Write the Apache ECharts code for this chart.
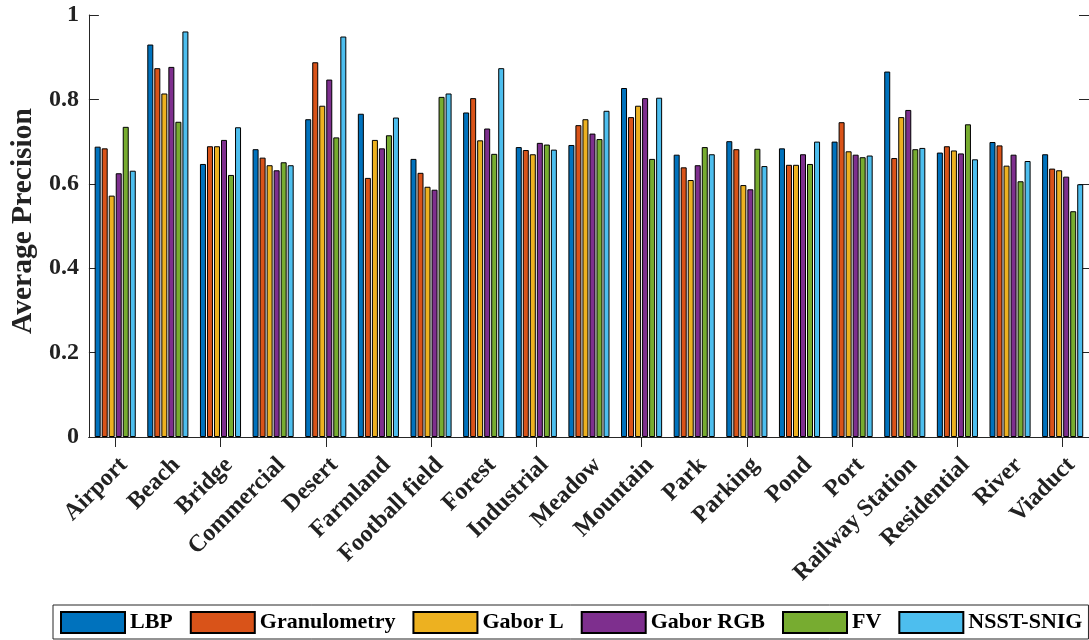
<!DOCTYPE html>
<html>
<head>
<meta charset="utf-8">
<script src="https://cdn.jsdelivr.net/npm/echarts@6/dist/echarts.min.js"></script>
<style>
  html, body { margin: 0; padding: 0; background: #fff; }
  #chart { width: 1089px; height: 640px; }
</style>
</head>
<body>
<div id="chart"></div>
<script>
// Scene classes on the horizontal axis
const categories = ['Airport', 'Beach', 'Bridge', 'Commercial', 'Desert', 'Farmland',
  'Football field', 'Forest', 'Industrial', 'Meadow', 'Mountain', 'Park', 'Parking',
  'Pond', 'Port', 'Railway Station', 'Residential', 'River', 'Viaduct'];

// Average precision per descriptor, one value per scene class
const lbp          = [0.688, 0.930, 0.647, 0.682, 0.753, 0.766, 0.659, 0.769, 0.687, 0.692, 0.827, 0.669, 0.701, 0.684, 0.700, 0.866, 0.674, 0.699, 0.670];
const granulometry = [0.684, 0.874, 0.689, 0.662, 0.888, 0.614, 0.626, 0.803, 0.680, 0.739, 0.758, 0.639, 0.682, 0.645, 0.746, 0.661, 0.689, 0.691, 0.636];
const gaborL       = [0.572, 0.814, 0.689, 0.644, 0.785, 0.704, 0.593, 0.703, 0.670, 0.753, 0.785, 0.609, 0.597, 0.645, 0.677, 0.758, 0.679, 0.643, 0.632];
const gaborRGB     = [0.625, 0.877, 0.704, 0.632, 0.847, 0.684, 0.586, 0.731, 0.697, 0.719, 0.803, 0.644, 0.587, 0.670, 0.669, 0.775, 0.672, 0.669, 0.617];
const fv           = [0.735, 0.747, 0.621, 0.651, 0.710, 0.715, 0.806, 0.671, 0.693, 0.706, 0.659, 0.687, 0.683, 0.647, 0.663, 0.682, 0.741, 0.606, 0.535];
const nsstSnig     = [0.631, 0.961, 0.734, 0.644, 0.949, 0.757, 0.814, 0.874, 0.681, 0.773, 0.804, 0.670, 0.642, 0.700, 0.667, 0.685, 0.658, 0.654, 0.599];

const seriesNames = ['LBP', 'Granulometry', 'Gabor L', 'Gabor RGB', 'FV', 'NSST-SNIG'];
const seriesData = [lbp, granulometry, gaborL, gaborRGB, fv, nsstSnig];
const seriesColors = ['#0072BD', '#D95319', '#EDB120', '#7E2F8E', '#77AC30', '#4DBEEE'];

const yTicks = [0, 0.2, 0.4, 0.6, 0.8, 1];

const FONT = "'Liberation Serif', 'Times New Roman', serif";
const INK = '#262626';

const chart = echarts.init(document.getElementById('chart'), null, { renderer: 'canvas' });

const frameAxisLine = { show: true, lineStyle: { color: INK, width: 1 } };

const option = {
  animation: false,
  backgroundColor: '#ffffff',
  textStyle: { fontFamily: FONT },
  grid: { left: 84, top: 15, width: 1007, height: 422, containLabel: false },
  legend: {
    data: seriesNames,
    left: 53,
    top: 605,
    orient: 'horizontal',
    icon: 'rect',
    itemWidth: 64,
    itemHeight: 21,
    itemGap: 17,
    padding: [6, 6, 5, 7],
    borderColor: INK,
    borderWidth: 1,
    textStyle: { fontFamily: FONT, fontSize: 22, fontWeight: 'bold', color: '#000', lineHeight: 22 }
  },
  xAxis: [
    {
      type: 'category',
      data: categories,
      position: 'bottom',
      axisLine: frameAxisLine,
      axisTick: { show: false },
      axisLabel: {
        interval: 0,
        rotate: 45,
        margin: 16,
        verticalAlign: 'top',
        fontFamily: FONT,
        fontSize: 24,
        fontWeight: 'bold',
        color: '#222'
      },
      splitLine: { show: false }
    },
    {
      type: 'category',
      data: categories,
      position: 'top',
      axisLine: frameAxisLine,
      axisTick: { show: true, inside: true, alignWithLabel: true, length: 10, lineStyle: { color: INK } },
      axisLabel: { show: false },
      splitLine: { show: false }
    }
  ],
  yAxis: [
    {
      type: 'value',
      min: 0,
      max: 1,
      interval: 0.2,
      position: 'left',
      name: 'Average Precision',
      nameLocation: 'middle',
      nameGap: 47,
      nameTextStyle: { fontFamily: FONT, fontSize: 29.5, fontWeight: 'bold', color: '#222', padding: [0, 0, 0, 10] },
      axisLine: frameAxisLine,
      axisTick: { show: true, inside: true, length: 10, lineStyle: { color: INK } },
      axisLabel: {
        margin: 10,
        fontFamily: FONT,
        fontSize: 24,
        fontWeight: 'bold',
        color: '#222',
        formatter: function (v) {
          const hit = yTicks.find(t => Math.abs(t - v) < 1e-9);
          return hit === undefined ? '' : String(hit);
        }
      },
      splitLine: { show: false }
    },
    {
      type: 'value',
      min: 0,
      max: 1,
      interval: 0.2,
      position: 'right',
      axisLine: frameAxisLine,
      axisTick: { show: true, inside: true, length: 10, lineStyle: { color: INK } },
      axisLabel: { show: false },
      splitLine: { show: false }
    }
  ],
  series: seriesNames.map((name, i) => ({
    name: name,
    type: 'bar',
    xAxisIndex: 0,
    yAxisIndex: 0,
    data: seriesData[i],
    barWidth: 6,
    barGap: '17%',
    itemStyle: { color: seriesColors[i], borderColor: '#000', borderWidth: 1 }
  }))
};

chart.setOption(option);
</script>
</body>
</html>
